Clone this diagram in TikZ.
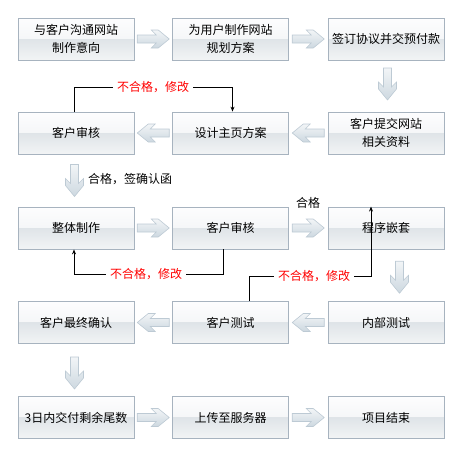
\documentclass[tikz,border=0pt]{standalone}
\usepackage{fontspec}
\setmainfont{Noto Sans CJK SC}
\usetikzlibrary{arrows.meta,calc}
\definecolor{boxborder}{HTML}{A7B3BF}
\definecolor{boxtopA}{HTML}{FDFDFE}
\definecolor{boxtopB}{HTML}{EDF0F2}
\definecolor{boxbotA}{HTML}{DFE4E8}
\definecolor{boxbotB}{HTML}{F2F4F5}
\definecolor{arrlight}{HTML}{F2F5F7}
\definecolor{arrdark}{HTML}{CDD8E0}
\definecolor{arrborder}{HTML}{BDCAD4}
\definecolor{redtext}{HTML}{FF0000}
\tikzset{
  barrow/.pic={
    \path[draw=arrborder, line width=0.6pt, top color=arrlight, bottom color=arrdark]
      (-16,-4) -- (3,-4) -- (-2,-9) -- (5,-9) -- (16,0) -- (5,9) -- (-2,9) -- (3,4) -- (-16,4) -- cycle;
  }
}
\begin{document}
\begin{tikzpicture}[x=1pt,y=-1pt,
  box/.style={draw=boxborder, line width=0.8pt, minimum width=116pt, minimum height=42pt,
    inner sep=0pt, align=center, font=\fontsize{12}{18}\selectfont,
    path picture={
      \fill[top color=boxtopA, bottom color=boxtopB]
        (path picture bounding box.north west) rectangle (path picture bounding box.east);
      \fill[top color=boxbotA, bottom color=boxbotB]
        (path picture bounding box.west) rectangle (path picture bounding box.south east);
    }},
  redlab/.style={text=redtext, font=\fontsize{12}{14}\selectfont, inner xsep=4pt, inner ysep=0pt},
  blklab/.style={font=\fontsize{12}{14}\selectfont, inner sep=0pt},
  looparrow/.style={draw=black, line width=0.9pt},
  tipped/.style={-{Stealth[length=5pt,width=4pt]}}
  ]
\useasboundingbox (0,0) rectangle (463,458);

% boxes
\node[box] (a1) at (76,39) {与客户沟通网站\\制作意向};
\node[box] (a2) at (230.5,39) {为用户制作网站\\规划方案};
\node[box] (a3) at (386,39) {签订协议并交预付款};
\node[box] (b1) at (76,133) {客户审核};
\node[box] (b2) at (230.5,133) {设计主页方案};
\node[box] (b3) at (386,133) {客户提交网站\\相关资料};
\node[box] (c1) at (76,228) {整体制作};
\node[box] (c2) at (230.5,228) {客户审核};
\node[box] (c3) at (386,228) {程序嵌套};
\node[box] (d1) at (76,322.5) {客户最终确认};
\node[box] (d2) at (230.5,322.5) {客户测试};
\node[box] (d3) at (386,322.5) {内部测试};
\node[box] (e1) at (76,417.5) {3日内交付剩余尾数};
\node[box] (e2) at (230.5,417.5) {上传至服务器};
\node[box] (e3) at (386,417.5) {项目结束};

% block arrows
\pic at ($(a1.east)!0.5!(a2.west)$) {barrow};
\pic at ($(a2.east)!0.5!(a3.west)$) {barrow};
\pic[rotate=-90] at ($(a3.south)!0.5!(b3.north)+(1.5,-2)$) {barrow};
\pic[rotate=180] at ($(b3.west)!0.5!(b2.east)$) {barrow};
\pic[rotate=180] at ($(b2.west)!0.5!(b1.east)$) {barrow};
\pic[rotate=-90] at ($(b1.south)!0.5!(c1.north)+(-1.5,0)$) {barrow};
\pic at ($(c1.east)!0.5!(c2.west)$) {barrow};
\pic at ($(c2.east)!0.5!(c3.west)$) {barrow};
\pic[rotate=-90] at ($(c3.south)!0.5!(d3.north)+(13.5,2)$) {barrow};
\pic[rotate=180] at ($(d3.west)!0.5!(d2.east)$) {barrow};
\pic[rotate=180] at ($(d2.west)!0.5!(d1.east)$) {barrow};
\pic[rotate=-90] at ($(d1.south)!0.5!(e1.north)+(-1.5,3)$) {barrow};
\pic at ($(e1.east)!0.5!(e2.west)$) {barrow};
\pic at ($(e2.east)!0.5!(e3.west)$) {barrow};

% labels
\node[blklab, anchor=west] (ok1) at (88,179) {合格，签确认函};
\node[blklab] (ok2) at (308,203) {合格};

% rework loops
\node[redlab] (l1) at (153,87) {不合格，修改};
\draw[looparrow] ([xshift=-2pt]b1.north) |- (l1.west);
\draw[looparrow, tipped] (l1.east) -| ([xshift=2pt]b2.north);

\node[redlab] (l2) at (146,274) {不合格，修改};
\draw[looparrow] ([xshift=-7.5pt]c2.south) |- (l2.east);
\draw[looparrow, tipped] (l2.west) -| ([xshift=-2pt]c1.south);

\node[redlab] (l3) at (314,276) {不合格，修改};
\draw[looparrow] ([xshift=18.5pt]d2.north) |- (l3.west);
\draw[looparrow, tipped] (l3.east) -| ([xshift=-15pt]c3.north);
\end{tikzpicture}
\end{document}
